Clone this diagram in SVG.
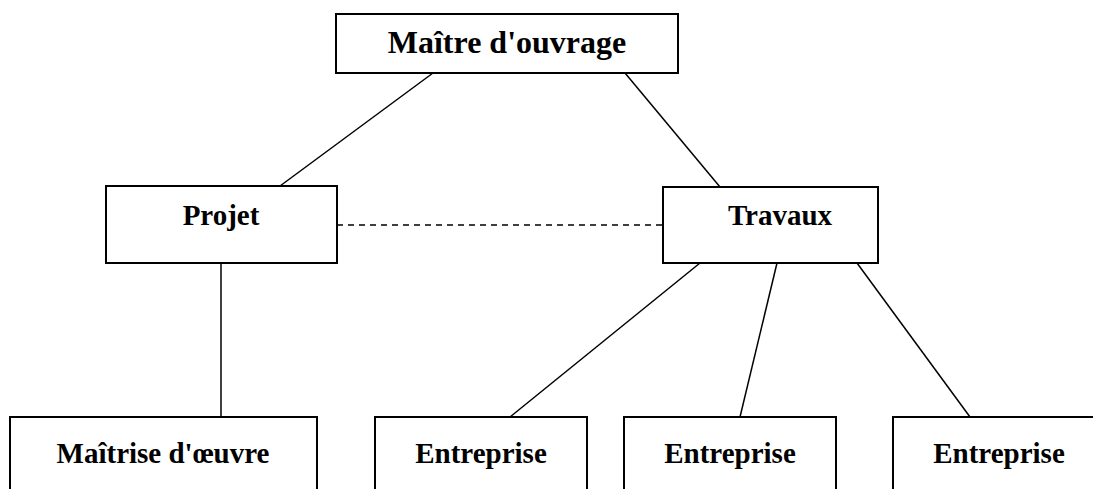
<svg xmlns="http://www.w3.org/2000/svg" width="1093" height="489" viewBox="0 0 1093 489">
<style>
.box{fill:#fff;stroke:#000;stroke-width:2}
.lbl{font-family:"Liberation Serif","Times New Roman",serif;font-weight:bold;font-size:29px;text-anchor:middle;fill:#000}
.ln{stroke:#000;stroke-width:1.5;fill:none}
.dash{stroke-dasharray:6,5}
</style>
<rect width="1093" height="489" fill="#fff"/>
<g id="connectors">
<line class="ln" x1="433" y1="73" x2="280" y2="186"/>
<line class="ln" x1="625" y1="73" x2="720" y2="187"/>
<line class="ln dash" x1="337" y1="225" x2="663" y2="225"/>
<line class="ln" x1="221" y1="263" x2="221" y2="417"/>
<line class="ln" x1="700" y1="263" x2="510" y2="417"/>
<line class="ln" x1="777" y1="263" x2="740" y2="417"/>
<line class="ln" x1="857" y1="263" x2="970" y2="417"/>
</g>
<g id="maitre-ouvrage">
<rect class="box" x="336" y="14" width="342" height="59"/>
<text class="lbl" x="507" y="53" style="font-size:32px">Maître d'ouvrage</text>
</g>
<g id="projet">
<rect class="box" x="106" y="186" width="231" height="77"/>
<text class="lbl" x="221" y="225">Projet</text>
</g>
<g id="travaux">
<rect class="box" x="663" y="187" width="215" height="76"/>
<text class="lbl" x="780" y="225">Travaux</text>
</g>
<g id="maitrise-oeuvre">
<path class="box" d="M10,490 V417 H317 V490"/>
<text class="lbl" x="163" y="463">Maîtrise d'œuvre</text>
</g>
<g id="entreprise-1">
<path class="box" d="M375,490 V417 H587 V490"/>
<text class="lbl" x="481" y="463">Entreprise</text>
</g>
<g id="entreprise-2">
<path class="box" d="M624,490 V417 H836 V490"/>
<text class="lbl" x="730" y="463">Entreprise</text>
</g>
<g id="entreprise-3">
<path class="box" d="M893,490 V417 H1105 V490"/>
<text class="lbl" x="999" y="463">Entreprise</text>
</g>
</svg>
